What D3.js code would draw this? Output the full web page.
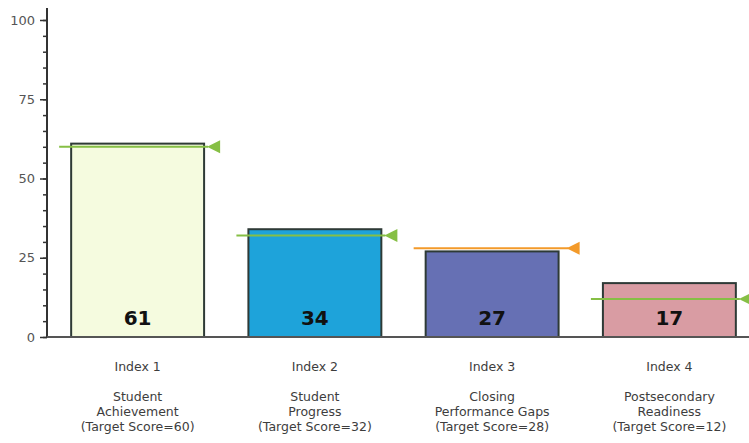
<!DOCTYPE html>
<html>
<head>
<meta charset="utf-8">
<script src="https://cdn.jsdelivr.net/npm/d3@7"></script>
<style>
  body { margin: 0; background: #fff; }
  svg { display: block; }
  text { font-family: "DejaVu Sans", sans-serif; }
</style>
</head>
<body>
<svg id="chart" width="749" height="443"></svg>
<script>
// data
const indexNames = ['Index 1', 'Index 2', 'Index 3', 'Index 4'];
const labelLines = [
  ['Student', 'Achievement', '(Target Score=60)'],
  ['Student', 'Progress', '(Target Score=32)'],
  ['Closing', 'Performance Gaps', '(Target Score=28)'],
  ['Postsecondary', 'Readiness', '(Target Score=12)']
];
const scores = [61, 34, 27, 17];
const targets = [60, 32, 28, 12];
const barColors = ['#f5fbdf', '#1ea3da', '#6670b4', '#d99ca3'];
const targetColors = ['#86bf45', '#86bf45', '#f39a2a', '#86bf45'];
const yTicks = [0, 25, 50, 75, 100];

const svg = d3.select('#chart');

const x = d3.scaleBand()
  .domain(indexNames)
  .range([49, 758])
  .paddingInner(0.25)
  .paddingOuter(0.125);

const y = d3.scaleLinear().domain([0, 100]).range([337, 20]);

// minor ticks every 5
svg.append('g')
  .attr('transform', 'translate(47,0)')
  .call(d3.axisLeft(y).tickValues(d3.range(0, 101, 5)).tickSize(4).tickFormat(''))
  .call(g => g.select('.domain').remove())
  .selectAll('line').attr('stroke', '#333').attr('stroke-width', 1.5);

// major ticks with labels
const yAxis = svg.append('g')
  .attr('transform', 'translate(47,0)')
  .call(d3.axisLeft(y).tickValues(yTicks).tickSize(7).tickPadding(5))
  .call(g => g.select('.domain').remove());
yAxis.selectAll('line').attr('stroke', '#333').attr('stroke-width', 1.5);
yAxis.selectAll('text').attr('fill', '#555').style('font-size', '13px');

// axis lines
svg.append('line')
  .attr('x1', 47).attr('x2', 47).attr('y1', 8).attr('y2', y(0))
  .attr('stroke', '#333').attr('stroke-width', 2);

// bars
svg.selectAll('rect.bar')
  .data(scores)
  .join('rect')
  .attr('class', 'bar')
  .attr('x', (d, i) => x(indexNames[i]))
  .attr('y', d => y(d))
  .attr('width', x.bandwidth())
  .attr('height', d => y(0) - y(d))
  .attr('fill', (d, i) => barColors[i])
  .attr('stroke', '#2e3a36')
  .attr('stroke-width', 2);

svg.append('line')
  .attr('x1', 47).attr('x2', 749).attr('y1', y(0)).attr('y2', y(0))
  .attr('stroke', '#555').attr('stroke-width', 2);

// target markers
const tg = svg.selectAll('g.target')
  .data(targets)
  .join('g')
  .attr('class', 'target');

tg.append('line')
  .attr('x1', (d, i) => x(indexNames[i]) - 12)
  .attr('x2', (d, i) => x(indexNames[i]) + x.bandwidth() + (i === 2 ? 10 : 4))
  .attr('y1', d => y(d))
  .attr('y2', d => y(d))
  .attr('stroke', (d, i) => targetColors[i])
  .attr('stroke-width', 2);

tg.append('path')
  .attr('d', (d, i) => {
    const tip = x(indexNames[i]) + x.bandwidth() + (i === 2 ? 8 : 3);
    const cy = y(d);
    return `M${tip},${cy}L${tip + 13},${cy - 6.5}L${tip + 13},${cy + 6.5}Z`;
  })
  .attr('fill', (d, i) => targetColors[i]);

// value labels
svg.selectAll('text.value')
  .data(scores)
  .join('text')
  .attr('class', 'value')
  .attr('x', (d, i) => x(indexNames[i]) + x.bandwidth() / 2)
  .attr('y', 325)
  .attr('text-anchor', 'middle')
  .style('font-size', '20px')
  .style('font-weight', 'bold')
  .attr('fill', '#111')
  .text(d => d);

// category labels
const cat = svg.selectAll('g.cat')
  .data(indexNames)
  .join('g')
  .attr('class', 'cat')
  .attr('transform', d => `translate(${x(d) + x.bandwidth() / 2},0)`);

cat.append('text')
  .attr('y', 371)
  .attr('text-anchor', 'middle')
  .attr('fill', '#3d3d3d')
  .style('font-size', '12.5px')
  .text(d => d);

cat.each(function(d, i) {
  d3.select(this).selectAll('text.line')
    .data(labelLines[i])
    .join('text')
    .attr('class', 'line')
    .attr('y', (t, j) => 401 + j * 15)
    .attr('text-anchor', 'middle')
    .attr('fill', '#3d3d3d')
    .style('font-size', '12.5px')
    .text(t => t);
});
</script>
</body>
</html>
